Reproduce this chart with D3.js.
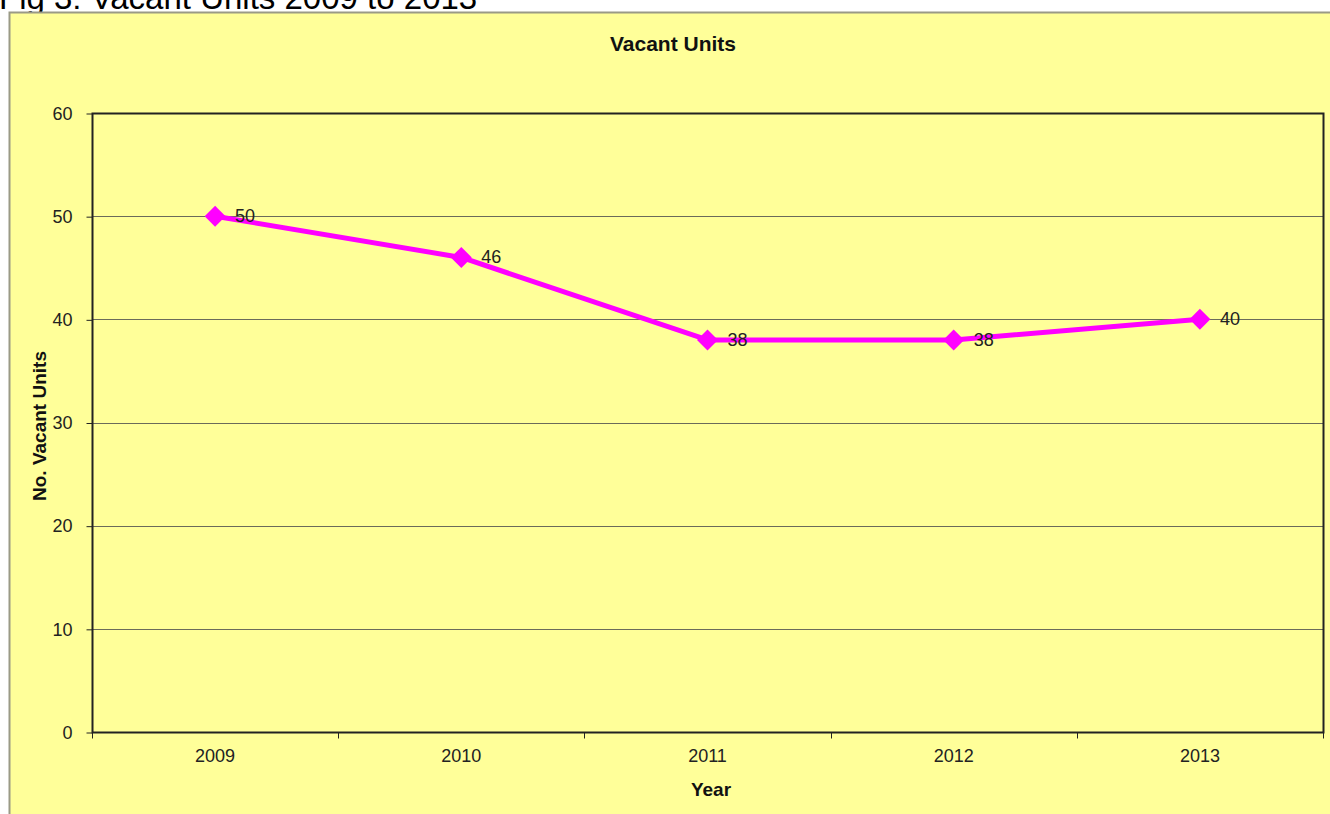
<!DOCTYPE html>
<html>
<head>
<meta charset="utf-8">
<script src="https://cdn.jsdelivr.net/npm/d3@7"></script>
<style>
  body { margin: 0; background: #fff; }
  text { font-family: Arial, "Liberation Sans", sans-serif; }
</style>
</head>
<body>
<div class="chart"></div>
<script>
// data
var years = ["2009", "2010", "2011", "2012", "2013"];
var vacant = [50, 46, 38, 38, 40];
var yTicks = [0, 10, 20, 30, 40, 50, 60];

var width = 1330, height = 814;
var margin = { top: 113, left: 92, right: 7, bottom: 82 };

var svg = d3.select(".chart").append("svg")
    .attr("width", width)
    .attr("height", height);

// figure caption, clipped by the top of the page
svg.append("text")
    .attr("x", -1)
    .attr("y", 9)
    .attr("font-size", 33)
    .attr("fill", "#000")
    .text("Fig 3: Vacant Units 2009 to 2013");

// yellow chart panel
svg.append("rect")
    .attr("x", 9.5)
    .attr("y", 12.5)
    .attr("width", width)
    .attr("height", height)
    .attr("fill", "#ffff99")
    .attr("stroke", "#9a9a86")
    .attr("stroke-width", 2);

var x = d3.scaleBand()
    .domain(years)
    .range([margin.left, width - margin.right]);

var y = d3.scaleLinear()
    .domain([0, 60])
    .range([height - margin.bottom, margin.top]);

// gridlines
svg.append("g")
    .selectAll("line")
    .data(yTicks)
    .enter().append("line")
    .attr("x1", margin.left)
    .attr("x2", width - margin.right)
    .attr("y1", d => Math.round(y(d)) + 0.5)
    .attr("y2", d => Math.round(y(d)) + 0.5)
    .attr("stroke", "#6b6b5a")
    .attr("stroke-width", 1);

// plot frame
svg.append("rect")
    .attr("x", margin.left + 0.5)
    .attr("y", margin.top + 0.5)
    .attr("width", width - margin.right - margin.left)
    .attr("height", height - margin.bottom - margin.top)
    .attr("fill", "none")
    .attr("stroke", "#222")
    .attr("stroke-width", 2);

// y axis
var yAxis = svg.append("g")
    .attr("transform", "translate(" + (margin.left + 0.5) + ",0.5)")
    .call(d3.axisLeft(y).tickValues(yTicks).tickSize(6).tickPadding(14));
yAxis.select(".domain").remove();
yAxis.selectAll("line").attr("stroke", "#222");
yAxis.selectAll("text")
    .attr("font-size", 18)
    .attr("fill", "#222")
    .style("font-family", "Arial, 'Liberation Sans', sans-serif");

// x axis, ticks sit between categories
var xAxis = svg.append("g")
    .attr("transform", "translate(0," + (height - margin.bottom + 0.5) + ")");
xAxis.selectAll("line")
    .data(years.concat(["end"]))
    .enter().append("line")
    .attr("x1", (d, i) => Math.round(margin.left + i * x.step()) + 0.5)
    .attr("x2", (d, i) => Math.round(margin.left + i * x.step()) + 0.5)
    .attr("y1", 0)
    .attr("y2", 6)
    .attr("stroke", "#222");
xAxis.selectAll("text")
    .data(years)
    .enter().append("text")
    .attr("x", d => x(d) + x.bandwidth() / 2)
    .attr("y", 29)
    .attr("text-anchor", "middle")
    .attr("font-size", 18)
    .attr("fill", "#222")
    .text(d => d);

// titles
svg.append("text")
    .attr("x", 673)
    .attr("y", 51)
    .attr("text-anchor", "middle")
    .attr("font-size", 21)
    .attr("font-weight", "bold")
    .attr("fill", "#111")
    .text("Vacant Units");

svg.append("text")
    .attr("transform", "translate(46,426) rotate(-90)")
    .attr("text-anchor", "middle")
    .attr("font-size", 19)
    .attr("font-weight", "bold")
    .attr("fill", "#111")
    .text("No. Vacant Units");

svg.append("text")
    .attr("x", 711)
    .attr("y", 796)
    .attr("text-anchor", "middle")
    .attr("font-size", 19)
    .attr("font-weight", "bold")
    .attr("fill", "#111")
    .text("Year");

// series
var pts = years.map((d, i) => ({ year: d, value: vacant[i] }));
var cx = d => x(d.year) + x.bandwidth() / 2;

svg.append("path")
    .datum(pts)
    .attr("fill", "none")
    .attr("stroke", "#ff00ff")
    .attr("stroke-width", 5)
    .attr("stroke-linejoin", "round")
    .attr("d", d3.line().x(cx).y(d => y(d.value)));

svg.append("g")
    .selectAll("path")
    .data(pts)
    .enter().append("path")
    .attr("transform", d => "translate(" + cx(d) + "," + y(d.value) + ")")
    .attr("d", d3.symbol().type(d3.symbolDiamond2).size(280))
    .attr("fill", "#ff00ff");

svg.append("g")
    .selectAll("text")
    .data(pts)
    .enter().append("text")
    .attr("x", d => cx(d) + 20)
    .attr("y", d => y(d.value) + 6)
    .attr("font-size", 18)
    .attr("fill", "#222")
    .text(d => d.value);
</script>
</body>
</html>
